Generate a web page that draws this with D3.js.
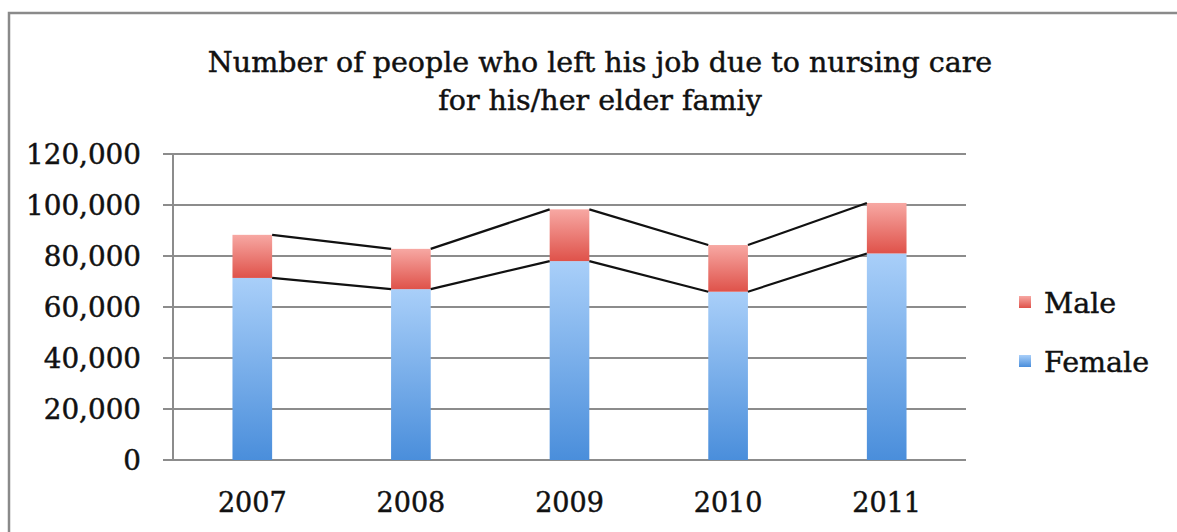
<!DOCTYPE html>
<html>
<head>
<meta charset="utf-8">
<script src="https://cdn.jsdelivr.net/npm/d3@7"></script>
<style>
  body { margin: 0; background: #fff; }
  text { font-family: "DejaVu Serif", serif; fill: #111; stroke: #111; stroke-width: 0.45px; }
</style>
</head>
<body>
<div id="chart"></div>
<script>
var years = ["2007", "2008", "2009", "2010", "2011"]
var female = [71400, 67000, 78000, 66000, 81000]
var male = [16900, 15800, 20300, 18300, 19800]
var yTicks = [0, 20000, 40000, 60000, 80000, 100000, 120000]
var titleLines = ["Number of people who left his job due to nursing care", "for his/her elder famiy"]
var seriesNames = ["Male", "Female"]

var width = 1177, height = 532
var svg = d3.select("#chart").append("svg")
  .attr("width", width)
  .attr("height", height)

// gradients for the bars
var defs = svg.append("defs")
function addGrad(id, top, bottom) {
  var g = defs.append("linearGradient").attr("id", id)
    .attr("x1", 0).attr("y1", 0).attr("x2", 0).attr("y2", 1)
  g.append("stop").attr("offset", "0%").attr("stop-color", top)
  g.append("stop").attr("offset", "100%").attr("stop-color", bottom)
}
addGrad("gFemale", "#a9cff9", "#4a8edb")
addGrad("gMale", "#f7a8a3", "#df524a")

// outer frame (only top and left edges visible)
svg.append("path")
  .attr("d", "M9,532 L9,13 L1177,13")
  .attr("fill", "none")
  .attr("stroke", "#8a8a8a")
  .attr("stroke-width", 2.5)

// title
svg.append("g").selectAll("text")
  .data(titleLines)
  .enter().append("text")
    .attr("x", 600)
    .attr("y", function(d, i) { return 72 + i * 38 })
    .attr("text-anchor", "middle")
    .style("font-size", "28.5px")
    .text(function(d) { return d })

var x = d3.scaleBand().domain(years).range([173, 966]).paddingInner(0.75).paddingOuter(0.375)
var y = d3.scaleLinear().domain([0, 120000]).range([460, 154])

// grid lines + tick marks
svg.append("g").selectAll("line")
  .data(yTicks)
  .enter().append("line")
    .attr("x1", 163).attr("x2", 966)
    .attr("y1", function(d) { return y(d) })
    .attr("y2", function(d) { return y(d) })
    .attr("stroke", "#8c8c8c")
    .attr("stroke-width", 2)

svg.append("line")
  .attr("x1", 173).attr("x2", 173)
  .attr("y1", y(120000)).attr("y2", y(0))
  .attr("stroke", "#8c8c8c")
  .attr("stroke-width", 2)

// y labels
svg.append("g").selectAll("text")
  .data(yTicks)
  .enter().append("text")
    .attr("x", 141)
    .attr("y", function(d) { return y(d) + 10 })
    .attr("text-anchor", "end")
    .style("font-size", "27.8px")
    .text(function(d) { return d3.format(",")(d) })

// x labels
svg.append("g").selectAll("text")
  .data(years)
  .enter().append("text")
    .attr("x", function(d) { return x(d) + x.bandwidth() / 2 })
    .attr("y", 512)
    .attr("text-anchor", "middle")
    .style("font-size", "27px")
    .text(function(d) { return d })

// stacked bars
var rows = years.map(function(yr, i) { return { year: yr, female: female[i], male: male[i] } })
var stack = d3.stack().keys(["female", "male"])(rows)
var fills = { female: "url(#gFemale)", male: "url(#gMale)" }

svg.append("g").selectAll("g")
  .data(stack)
  .enter().append("g")
    .attr("fill", function(s) { return fills[s.key] })
  .selectAll("rect")
  .data(function(s) { return s })
  .enter().append("rect")
    .attr("x", function(d) { return x(d.data.year) })
    .attr("width", x.bandwidth())
    .attr("y", function(d) { return y(d[1]) })
    .attr("height", function(d) { return y(d[0]) - y(d[1]) })

// series lines between bar tops
var segs = []
stack.forEach(function(s) {
  for (var i = 1; i < s.length; i++) {
    segs.push({ a: s[i - 1], b: s[i] })
  }
})
svg.append("g").selectAll("line")
  .data(segs)
  .enter().append("line")
    .attr("x1", function(d) { return x(d.a.data.year) + x.bandwidth() })
    .attr("y1", function(d) { return y(d.a[1]) })
    .attr("x2", function(d) { return x(d.b.data.year) })
    .attr("y2", function(d) { return y(d.b[1]) })
    .attr("stroke", "#111")
    .attr("stroke-width", 2.2)

// legend
var legend = svg.append("g").selectAll("g")
  .data(seriesNames)
  .enter().append("g")
    .attr("transform", function(d, i) { return "translate(1019," + (296 + i * 59) + ")" })
legend.append("rect")
  .attr("width", 12).attr("height", 12)
  .attr("fill", function(d) { return d == "Male" ? "url(#gMale)" : "url(#gFemale)" })
legend.append("text")
  .attr("x", 25).attr("y", 17)
  .style("font-size", "28.5px")
  .text(function(d) { return d })
</script>
</body>
</html>
